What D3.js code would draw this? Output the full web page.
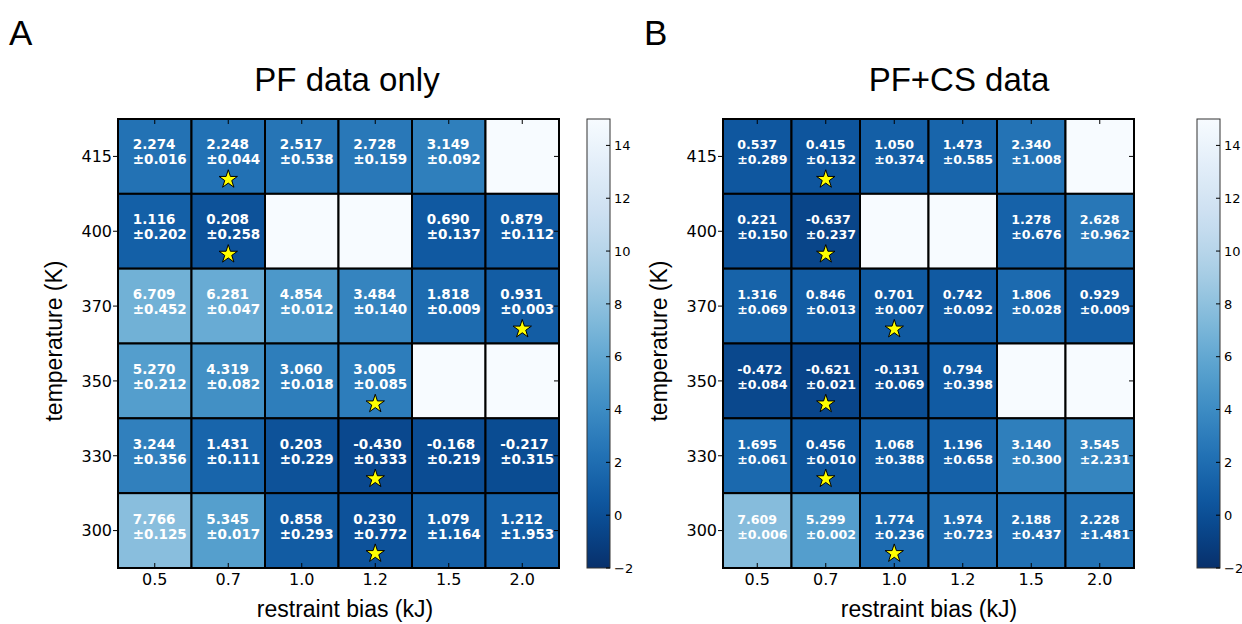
<!DOCTYPE html>
<html>
<head>
<meta charset="utf-8">
<script src="https://cdn.jsdelivr.net/npm/d3@7"></script>
<style>
  body { margin: 0; background: #fff; }
  svg { display: block; }
</style>
</head>
<body>
<div id="container"></div>
<script>
// DATA ###############################
const temps = ["415", "400", "370", "350", "330", "300"];
const biases = ["0.5", "0.7", "1.0", "1.2", "1.5", "2.0"];

// PF data only (rows = temps, cols = biases, null = no run)
const pfValues = [
  [2.274, 2.248, 2.517, 2.728, 3.149, null],
  [1.116, 0.208, null, null, 0.690, 0.879],
  [6.709, 6.281, 4.854, 3.484, 1.818, 0.931],
  [5.270, 4.319, 3.060, 3.005, null, null],
  [3.244, 1.431, 0.203, -0.430, -0.168, -0.217],
  [7.766, 5.345, 0.858, 0.230, 1.079, 1.212]
];
const pfErrors = [
  [0.016, 0.044, 0.538, 0.159, 0.092, null],
  [0.202, 0.258, null, null, 0.137, 0.112],
  [0.452, 0.047, 0.012, 0.140, 0.009, 0.003],
  [0.212, 0.082, 0.018, 0.085, null, null],
  [0.356, 0.111, 0.229, 0.333, 0.219, 0.315],
  [0.125, 0.017, 0.293, 0.772, 1.164, 1.953]
];
const pfStars = ["0.7", "0.7", "2.0", "1.2", "1.2", "1.2"];

// PF+CS data
const csValues = [
  [0.537, 0.415, 1.050, 1.473, 2.340, null],
  [0.221, -0.637, null, null, 1.278, 2.628],
  [1.316, 0.846, 0.701, 0.742, 1.806, 0.929],
  [-0.472, -0.621, -0.131, 0.794, null, null],
  [1.695, 0.456, 1.068, 1.196, 3.140, 3.545],
  [7.609, 5.299, 1.774, 1.974, 2.188, 2.228]
];
const csErrors = [
  [0.289, 0.132, 0.374, 0.585, 1.008, null],
  [0.150, 0.237, null, null, 0.676, 0.962],
  [0.069, 0.013, 0.007, 0.092, 0.028, 0.009],
  [0.084, 0.021, 0.069, 0.398, null, null],
  [0.061, 0.010, 0.388, 0.658, 0.300, 2.231],
  [0.006, 0.002, 0.236, 0.723, 0.437, 1.481]
];
const csStars = ["0.7", "0.7", "1.0", "0.7", "0.7", "1.0"];

const cbTicks = [-2, 0, 2, 4, 6, 8, 10, 12, 14];
const vMin = -2, vMax = 15;

// CONSTANTS ###############################
const width = 1242, height = 624;
const gridTop = 119, gridBottom = 568;

const color = d3.scaleSequential(t => d3.interpolateBlues(1 - t)).domain([vMin, vMax]);

const svg = d3.select("#container")
  .append("svg")
  .attr("width", width)
  .attr("height", height)
  .style("background", "#fff");

const labelFont = "'Liberation Sans', Arial, Helvetica, sans-serif";
const tickFont = "'DejaVu Sans', sans-serif";

// DRAW ONE PANEL ###############################
function drawPanel(p) {
  const xScale = d3.scaleBand().domain(biases).range([p.left, p.right]);
  const yScale = d3.scaleBand().domain(temps).range([gridTop, gridBottom]);
  const g = svg.append("g");

  const cells = [];
  temps.forEach((t, i) => biases.forEach((b, j) => {
    cells.push({ t, b, v: p.values[i][j], e: p.errors[i][j], star: p.stars[i] === b });
  }));

  // cells
  g.selectAll("rect.cell")
    .data(cells)
    .join("rect")
    .attr("class", "cell")
    .attr("x", d => xScale(d.b))
    .attr("y", d => yScale(d.t))
    .attr("width", xScale.bandwidth())
    .attr("height", yScale.bandwidth())
    .attr("fill", d => d.v === null ? color(vMax) : color(d.v))
    .attr("stroke", "#000")
    .attr("stroke-width", 2);

  // outer frame
  g.append("rect")
    .attr("x", p.left).attr("y", gridTop)
    .attr("width", p.right - p.left).attr("height", gridBottom - gridTop)
    .attr("fill", "none").attr("stroke", "#000").attr("stroke-width", 2);

  // cell labels
  const filled = cells.filter(d => d.v !== null);
  const txt = g.selectAll("text.val")
    .data(filled)
    .join("text")
    .attr("class", "val")
    .attr("font-family", tickFont)
    .attr("font-weight", "bold")
    .attr("font-size", p.cellFont)
    .attr("fill", "#fff");
  txt.append("tspan")
    .attr("x", d => xScale(d.b) + xScale.bandwidth() / 2 + p.textShift)
    .attr("y", d => yScale(d.t) + yScale.bandwidth() / 2 - 7)
    .text(d => d.v.toFixed(3));
  txt.append("tspan")
    .attr("x", d => xScale(d.b) + xScale.bandwidth() / 2 + p.textShift)
    .attr("y", d => yScale(d.t) + yScale.bandwidth() / 2 + 8)
    .text(d => "\u00b1" + d.e.toFixed(3));

  // stars
  g.selectAll("path.star")
    .data(cells.filter(d => d.star))
    .join("path")
    .attr("class", "star")
    .attr("d", d3.symbol(d3.symbolStar, 105))
    .attr("transform", d => `translate(${xScale(d.b) + xScale.bandwidth() / 2},${yScale(d.t) + yScale.bandwidth() / 2 + 23})`)
    .attr("fill", "#ffff00")
    .attr("stroke", "#000")
    .attr("stroke-width", 1);

  // ticks
  const tl = 5;
  g.selectAll("line.xt")
    .data(biases)
    .join("line")
    .attr("x1", d => xScale(d) + xScale.bandwidth() / 2)
    .attr("x2", d => xScale(d) + xScale.bandwidth() / 2)
    .attr("y1", gridBottom).attr("y2", gridBottom - tl)
    .attr("stroke", "#000");
  g.selectAll("line.xtt")
    .data(biases)
    .join("line")
    .attr("x1", d => xScale(d) + xScale.bandwidth() / 2)
    .attr("x2", d => xScale(d) + xScale.bandwidth() / 2)
    .attr("y1", gridTop).attr("y2", gridTop + tl)
    .attr("stroke", "#000");
  g.selectAll("line.yt")
    .data(temps)
    .join("line")
    .attr("x1", p.left - tl).attr("x2", p.left)
    .attr("y1", d => yScale(d) + yScale.bandwidth() / 2)
    .attr("y2", d => yScale(d) + yScale.bandwidth() / 2)
    .attr("stroke", "#000");
  g.selectAll("line.ytr")
    .data(temps)
    .join("line")
    .attr("x1", p.right - tl).attr("x2", p.right)
    .attr("y1", d => yScale(d) + yScale.bandwidth() / 2)
    .attr("y2", d => yScale(d) + yScale.bandwidth() / 2)
    .attr("stroke", "#000");

  // tick labels
  g.selectAll("text.xl")
    .data(biases)
    .join("text")
    .attr("x", d => xScale(d) + xScale.bandwidth() / 2)
    .attr("y", 585)
    .attr("text-anchor", "middle")
    .attr("font-family", tickFont)
    .attr("font-size", 16)
    .text(d => d);
  g.selectAll("text.yl")
    .data(temps)
    .join("text")
    .attr("x", p.left - 6)
    .attr("y", d => yScale(d) + yScale.bandwidth() / 2)
    .attr("dy", "0.36em")
    .attr("text-anchor", "end")
    .attr("font-family", tickFont)
    .attr("font-size", 16)
    .text(d => d);

  // axis labels
  g.append("text")
    .attr("x", p.xLabelX).attr("y", 617)
    .attr("text-anchor", "middle")
    .attr("font-family", labelFont)
    .attr("font-size", 23)
    .text("restraint bias (kJ)");
  g.append("text")
    .attr("transform", `translate(${p.yLabelX},341) rotate(-90)`)
    .attr("text-anchor", "middle")
    .attr("font-family", labelFont)
    .attr("font-size", 23)
    .text("temperature (K)");

  // title and panel letter
  g.append("text")
    .attr("x", p.titleX).attr("y", 91)
    .attr("text-anchor", "middle")
    .attr("font-family", labelFont)
    .attr("font-size", 33)
    .text(p.title);
  g.append("text")
    .attr("x", p.letterX).attr("y", 45)
    .attr("font-family", labelFont)
    .attr("font-size", 35)
    .text(p.letter);

  // colorbar
  const cbScale = d3.scaleLinear().domain([vMin, vMax]).range([gridBottom, gridTop]);
  const gradId = "grad" + p.letter;
  const grad = svg.append("defs").append("linearGradient")
    .attr("id", gradId)
    .attr("x1", 0).attr("y1", 1).attr("x2", 0).attr("y2", 0);
  d3.range(0, 1.0001, 0.05).forEach(s => {
    grad.append("stop")
      .attr("offset", s)
      .attr("stop-color", color(vMin + s * (vMax - vMin)));
  });
  g.append("rect")
    .attr("x", p.cbLeft).attr("y", gridTop)
    .attr("width", p.cbWidth).attr("height", gridBottom - gridTop)
    .attr("fill", `url(#${gradId})`)
    .attr("stroke", "#333")
    .attr("stroke-width", 1);
  g.selectAll("line.cbt")
    .data(cbTicks)
    .join("line")
    .attr("x1", p.cbLeft + p.cbWidth - 4).attr("x2", p.cbLeft + p.cbWidth)
    .attr("y1", d => cbScale(d)).attr("y2", d => cbScale(d))
    .attr("stroke", "#000");
  g.selectAll("text.cbl")
    .data(cbTicks)
    .join("text")
    .attr("x", p.cbLeft + p.cbWidth + 4)
    .attr("y", d => cbScale(d))
    .attr("dy", "0.36em")
    .attr("font-family", tickFont)
    .attr("font-size", 13)
    .text(d => d < 0 ? "\u2212" + Math.abs(d) : d);
}

drawPanel({
  left: 118, right: 559, values: pfValues, errors: pfErrors, stars: pfStars,
  title: "PF data only", titleX: 347, letter: "A", letterX: 9,
  xLabelX: 345, yLabelX: 62, cbLeft: 587, cbWidth: 23,
  cellFont: 13.5, textShift: -22
});
drawPanel({
  left: 723, right: 1134, values: csValues, errors: csErrors, stars: csStars,
  title: "PF+CS data", titleX: 959, letter: "B", letterX: 644,
  xLabelX: 929, yLabelX: 667, cbLeft: 1197, cbWidth: 23,
  cellFont: 12.6, textShift: -20
});
</script>
</body>
</html>
